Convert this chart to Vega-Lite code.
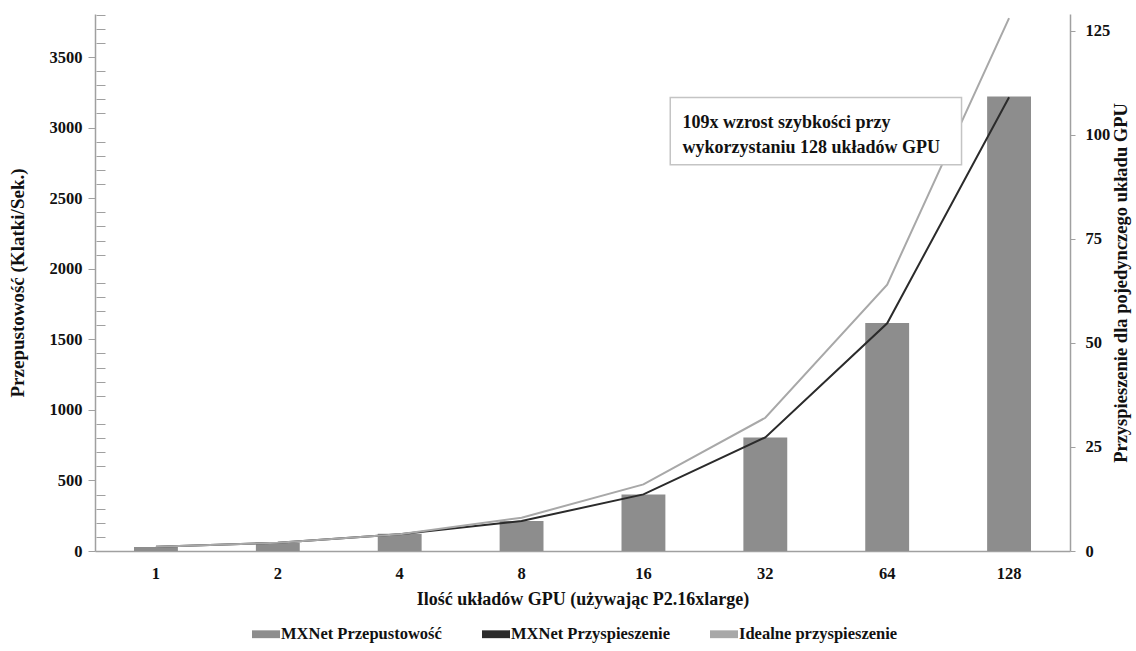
{
  "$schema": "https://vega.github.io/schema/vega-lite/v6.json",
  "width": 975,
  "height": 537,
  "autosize": {"type": "none"},
  "padding": {"left": 95, "top": 14, "right": 66, "bottom": 100},
  "background": "white",
  "config": {
    "view": {"stroke": null},
    "font": "Liberation Serif",
    "axis": {
      "grid": false,
      "labelFont": "Liberation Serif",
      "titleFont": "Liberation Serif",
      "labelFontWeight": "bold",
      "titleFontWeight": "bold",
      "labelColor": "#111111",
      "titleColor": "#111111",
      "domainColor": "#a0a0a0",
      "tickColor": "#a0a0a0",
      "domainWidth": 1.5,
      "labelFontSize": 16.5,
      "titleFontSize": 18
    }
  },
  "datasets": {
    "throughput": [
      {"gpus": 1, "value": 29, "series": "MXNet Przepustowość"},
      {"gpus": 2, "value": 58, "series": "MXNet Przepustowość"},
      {"gpus": 4, "value": 122, "series": "MXNet Przepustowość"},
      {"gpus": 8, "value": 212, "series": "MXNet Przepustowość"},
      {"gpus": 16, "value": 400, "series": "MXNet Przepustowość"},
      {"gpus": 32, "value": 805, "series": "MXNet Przepustowość"},
      {"gpus": 64, "value": 1615, "series": "MXNet Przepustowość"},
      {"gpus": 128, "value": 3220, "series": "MXNet Przepustowość"}
    ],
    "speedup": [
      {"gpus": 1, "value": 1, "series": "MXNet Przyspieszenie"},
      {"gpus": 2, "value": 2, "series": "MXNet Przyspieszenie"},
      {"gpus": 4, "value": 4, "series": "MXNet Przyspieszenie"},
      {"gpus": 8, "value": 7.2, "series": "MXNet Przyspieszenie"},
      {"gpus": 16, "value": 13.6, "series": "MXNet Przyspieszenie"},
      {"gpus": 32, "value": 27.3, "series": "MXNet Przyspieszenie"},
      {"gpus": 64, "value": 54.7, "series": "MXNet Przyspieszenie"},
      {"gpus": 128, "value": 109, "series": "MXNet Przyspieszenie"},
      {"gpus": 1, "value": 1, "series": "Idealne przyspieszenie"},
      {"gpus": 2, "value": 2, "series": "Idealne przyspieszenie"},
      {"gpus": 4, "value": 4, "series": "Idealne przyspieszenie"},
      {"gpus": 8, "value": 8, "series": "Idealne przyspieszenie"},
      {"gpus": 16, "value": 16, "series": "Idealne przyspieszenie"},
      {"gpus": 32, "value": 32, "series": "Idealne przyspieszenie"},
      {"gpus": 64, "value": 64, "series": "Idealne przyspieszenie"},
      {"gpus": 128, "value": 128, "series": "Idealne przyspieszenie"}
    ]
  },
  "layer": [
    {
      "layer": [
        {
          "data": {"name": "throughput"},
          "mark": {"type": "bar"},
          "encoding": {
            "x": {
              "field": "gpus",
              "type": "ordinal",
              "scale": {"paddingInner": 0.64, "paddingOuter": 0.32},
              "axis": {
                "title": "Ilość układów GPU (używając P2.16xlarge)",
                "labelAngle": 0,
                "ticks": false,
                "labelPadding": 14,
                "titlePadding": 9
              }
            },
            "y": {
              "field": "value",
              "type": "quantitative",
              "scale": {"domain": [0, 3805], "nice": false},
              "axis": {
                "orient": "left",
                "values": [0, 500, 1000, 1500, 2000, 2500, 3000, 3500],
                "format": "d",
                "tickSize": 7,
                "labelPadding": 6,
                "title": "Przepustowość (Klatki/Sek.)",
                "titleFontSize": 19,
                "titlePadding": 22
              }
            },
            "color": {
              "field": "series",
              "type": "nominal",
              "scale": {
                "domain": ["MXNet Przepustowość", "MXNet Przyspieszenie", "Idealne przyspieszenie"],
                "range": ["#8d8d8d", "#2b2b2b", "#a8a8a8"]
              },
              "legend": {
                "title": null,
                "orient": "none",
                "direction": "horizontal",
                "legendX": 157,
                "legendY": 606,
                "symbolType": "M-1,-0.28H1V0.28H-1Z",
                "symbolSize": 784,
                "symbolStrokeWidth": 0,
                "labelFont": "Liberation Serif",
                "labelFontWeight": "bold",
                "labelFontSize": 16.5,
                "labelColor": "#111111",
                "labelOffset": 1,
                "columnPadding": 40,
                "labelLimit": 400,
                "encode": {
                  "symbols": {
                    "update": {
                      "fill": {"scale": "color", "field": "value"},
                      "stroke": {"value": "transparent"},
                      "opacity": {"value": 1}
                    }
                  }
                }
              }
            }
          }
        },
        {
          "data": {"name": "speedup"},
          "mark": {"type": "line", "strokeWidth": 2},
          "encoding": {
            "x": {"field": "gpus", "type": "ordinal"},
            "y": {
              "field": "value",
              "type": "quantitative",
              "scale": {"domain": [0, 129], "nice": false},
              "axis": {
                "orient": "right",
                "values": [0, 25, 50, 75, 100, 125],
                "tickSize": 5,
                "labelPadding": 10,
                "title": "Przyspieszenie dla pojedynczego układu GPU",
                "titleAngle": 270,
                "titleFontSize": 18.5,
                "titlePadding": 21
              }
            },
            "color": {"field": "series", "type": "nominal"}
          }
        },
        {
          "data": {"name": "throughput"},
          "mark": {"type": "rule", "opacity": 0},
          "encoding": {
            "y": {
              "field": "value",
              "type": "quantitative",
              "scale": {"domain": [0, 3805], "nice": false},
              "axis": {
                "orient": "left",
                "values": [100, 200, 300, 400, 600, 700, 800, 900, 1100, 1200, 1300, 1400, 1600, 1700, 1800, 1900, 2100, 2200, 2300, 2400, 2600, 2700, 2800, 2900, 3100, 3200, 3300, 3400, 3600, 3700, 3800],
                "labels": false,
                "domain": false,
                "tickSize": 9,
                "offset": -10,
                "title": null
              }
            }
          }
        }
      ],
      "resolve": {"scale": {"y": "independent"}}
    },
    {
      "data": {"values": [{}]},
      "layer": [
        {
          "mark": {"type": "rect", "fill": "white", "fillOpacity": 1, "opacity": 1, "stroke": "#c4c4c4", "strokeWidth": 1.5},
          "encoding": {
            "x": {"datum": 4.72, "type": "quantitative", "scale": {"domain": [0, 8]}, "axis": null},
            "x2": {"datum": 7.11},
            "y": {"datum": 109.8, "type": "quantitative", "scale": {"domain": [0, 129]}, "axis": null},
            "y2": {"datum": 93.5}
          }
        },
        {
          "mark": {
            "type": "text",
            "text": ["109x wzrost szybkości przy", "wykorzystaniu 128 układów GPU"],
            "align": "left",
            "baseline": "middle",
            "lineHeight": 25,
            "font": "Liberation Serif",
            "fontWeight": "bold",
            "fontSize": 18,
            "color": "#111111"
          },
          "encoding": {
            "x": {"datum": 4.82, "type": "quantitative"},
            "y": {"datum": 103.7, "type": "quantitative"}
          }
        }
      ]
    }
  ],
  "resolve": {"scale": {"x": "independent", "y": "independent"}}
}
